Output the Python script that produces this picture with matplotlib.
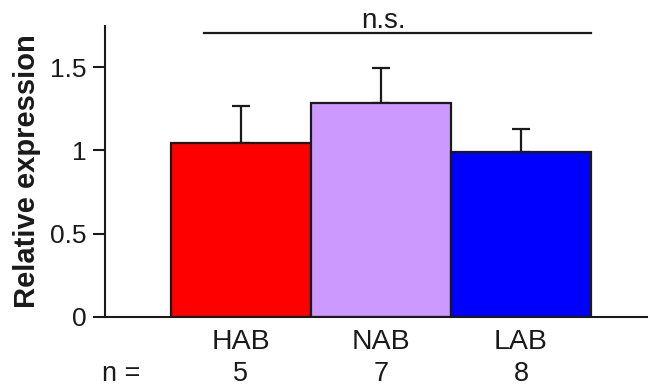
import numpy as np
import matplotlib

matplotlib.use("Agg")
import matplotlib.pyplot as plt

plt.rcParams["font.family"] = ["Liberation Sans", "DejaVu Sans"]

INK = "#1A1A1A"

groups = ["HAB", "NAB", "LAB"]
n_counts = [5, 7, 8]
means = [1.045, 1.285, 0.99]
errors = [0.22, 0.21, 0.14]
colors = ["#FF0000", "#CC99FF", "#0000FF"]
yticks = [0, 0.5, 1, 1.5]
ytick_labels = ["0", "0.5", "1", "1.5"]
ns_height = 1.704

fig = plt.figure(figsize=(6.5, 3.9), dpi=100, facecolor="white")
ax = fig.add_axes([0.1615, 0.1872, 0.834, 0.746])

x = np.arange(len(groups))
ax.bar(x, means, width=1.0, color=colors, edgecolor=INK, linewidth=1.6, zorder=2)
ax.errorbar(x, means, yerr=[np.zeros(len(errors)), errors], fmt="none",
            ecolor=INK, elinewidth=1.6, capsize=6.5, capthick=1.6, zorder=1)

# significance bar
ax.plot([-0.264, x[-1] + 0.5], [ns_height, ns_height], color=INK, lw=1.6,
        clip_on=False)
ax.text((x[0] + x[-1]) / 2 + 0.02, ns_height - 0.005, "n.s.", ha="center",
        va="bottom", fontsize=20, color=INK)

ax.set_xlim(-0.971, 2.9)
ax.set_ylim(0, 1.746)
ax.set_yticks(yticks)
ax.set_yticklabels(ytick_labels)
ax.set_xticks(x)
ax.set_xticklabels(groups)
ax.tick_params(axis="y", labelsize=19, colors=INK, direction="out", length=8.5,
               width=1.5, pad=5)
ax.tick_params(axis="x", labelsize=20.5, colors=INK, length=0, pad=9)

for side in ["top", "right"]:
    ax.spines[side].set_visible(False)
for side in ["left", "bottom"]:
    ax.spines[side].set_color(INK)
    ax.spines[side].set_linewidth(1.5)

ax.set_ylabel("Relative expression", fontsize=21, fontweight="bold", color=INK)
ax.yaxis.set_label_coords(-0.118, 0.5)

# sample sizes row
row_y = -0.195
ax.text(-0.857, row_y, "n =", transform=ax.get_xaxis_transform(), ha="center",
        va="center", fontsize=19.5, color=INK)
for xi, n in zip(x, n_counts):
    ax.text(xi, row_y, str(n), transform=ax.get_xaxis_transform(), ha="center",
            va="center", fontsize=19.5, color=INK)

fig.savefig("out.png", dpi=100, facecolor=fig.get_facecolor())
plt.close(fig)
